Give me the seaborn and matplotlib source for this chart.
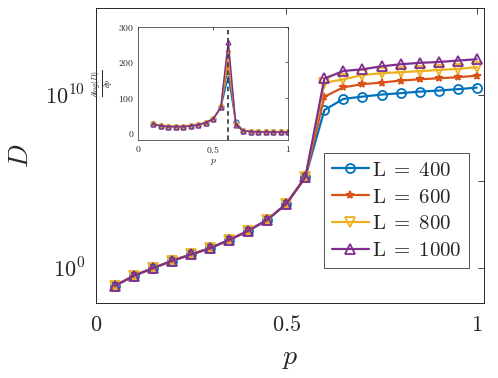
import numpy as np
import pandas as pd
import matplotlib
matplotlib.use("Agg")
import matplotlib.pyplot as plt
import seaborn as sns
from matplotlib.ticker import NullLocator

# main panel data: p and log10(D) for each L
p_main = [0.05, 0.10, 0.15, 0.20, 0.25, 0.30, 0.35, 0.40, 0.45, 0.50,
          0.55, 0.60, 0.65, 0.70, 0.75, 0.80, 0.85, 0.90, 0.95, 1.00]
common_low = [-1.02, -0.44, 0.0, 0.42, 0.79, 1.15, 1.63, 2.15, 2.79, 3.71, 5.25]
logD_400 = common_low + [9.13, 9.77, 9.90, 10.02, 10.10, 10.19, 10.25, 10.33, 10.42]
logD_600 = common_low + [9.90, 10.44, 10.62, 10.71, 10.83, 10.90, 10.96, 11.02, 11.11]
logD_800 = common_low + [10.70, 10.90, 11.15, 11.25, 11.31, 11.37, 11.44, 11.50, 11.60]
logD_1000 = common_low + [10.95, 11.38, 11.48, 11.65, 11.77, 11.85, 11.90, 11.98, 12.06]

# inset data: derivative of log(D)
p_inset = [0.10, 0.15, 0.20, 0.25, 0.30, 0.35, 0.40, 0.45, 0.50, 0.55,
           0.60, 0.65, 0.70, 0.75, 0.80, 0.85, 0.90, 0.95, 1.00]
d_low = [25, 20, 18, 18, 18, 20, 23, 29, 40, 72]
d_tail = [6, 4, 3, 3, 2.5, 2.5, 2.5]
dlog_400 = d_low + [160, 30] + d_tail
dlog_600 = d_low + [200, 25] + d_tail
dlog_800 = d_low + [225, 22] + d_tail
dlog_1000 = d_low + [258, 22] + d_tail

sizes = ["400", "600", "800", "1000"]
colors = ["#0072BD", "#D95319", "#EDB120", "#7E2F8E"]
markers = ["o", "*", "v", "^"]

sns.set_style("white")
plt.rcParams["mathtext.fontset"] = "cm"
plt.rcParams["font.family"] = ["DejaVu Serif"]
plt.rcParams["axes.edgecolor"] = "#262626"
plt.rcParams["xtick.color"] = "#262626"
plt.rcParams["ytick.color"] = "#262626"

fig = plt.figure(figsize=(4.98, 3.78), dpi=100)
ax = fig.add_axes([0.1928, 0.1992, 0.7797, 0.7788])

main_series = [logD_400, logD_600, logD_800, logD_1000]
for lab, col, mk, ys in zip(sizes, colors, markers, main_series):
    df = pd.DataFrame({"p": p_main, "D": 10.0 ** np.array(ys)})
    star = mk == "*"
    sns.lineplot(data=df, x="p", y="D", ax=ax, color=col, marker=mk,
                 markersize=5.5 if star else 6.5,
                 markerfacecolor=col if star else "none",
                 markeredgecolor=col, markeredgewidth=1.3, linewidth=1.6,
                 label=r"$\mathrm{L}\;=\;%s$" % lab)

ax.set_yscale("log")
ax.set_xlim(0, 1.02)
ax.set_ylim(1e-2, 1e15)
ax.set_yticks([1, 1e5, 1e10])
ax.set_yticklabels([r"$10^0$", "", r"$10^{10}$"])
ax.yaxis.set_minor_locator(NullLocator())
ax.set_xticks([0, 0.5, 1])
ax.set_xticklabels([r"$0$", r"$0.5$", r"$1$"])
ax.tick_params(direction="in", top=True, right=True, length=4, width=0.6,
               labelsize=16, pad=8)
ax.set_xlabel(r"$p$", fontsize=20, labelpad=6)
ax.set_ylabel(r"$D$", fontsize=20, labelpad=8)
for s in ax.spines.values():
    s.set_linewidth(0.7)

leg = ax.legend(loc="lower left", bbox_to_anchor=(0.588, 0.119), fontsize=15,
                frameon=True, fancybox=False, edgecolor="#262626",
                handlelength=1.8, handletextpad=0.15, labelspacing=0.38,
                borderpad=0.35, borderaxespad=0)
leg.get_frame().set_linewidth(0.7)

# inset
axi = fig.add_axes([0.2777, 0.6296, 0.3012, 0.2997])
inset_series = [dlog_400, dlog_600, dlog_800, dlog_1000]
for col, mk, ys in zip(colors, markers, inset_series):
    dfi = pd.DataFrame({"p": p_inset, "d": ys})
    star = mk == "*"
    sns.lineplot(data=dfi, x="p", y="d", ax=axi, color=col, marker=mk,
                 markersize=3.0 if star else 3.5,
                 markerfacecolor=col if star else "none",
                 markeredgecolor=col, markeredgewidth=0.9, linewidth=1.1,
                 legend=False)
axi.axvline(0.6, color="#404040", linestyle=(0, (2.5, 2)), linewidth=1.3, zorder=5)
axi.set_xlim(0, 1)
axi.set_ylim(-20, 300)
axi.set_xticks([0, 0.5, 1])
axi.set_xticklabels([r"$0$", r"$0.5$", r"$1$"])
axi.set_yticks([0, 100, 200, 300])
axi.set_yticklabels([r"$0$", r"$100$", r"$200$", r"$300$"])
axi.tick_params(direction="in", top=True, right=True, length=2.5, width=0.5,
                labelsize=7, pad=3)
axi.set_xlabel(r"$p$", fontsize=7, labelpad=1)
axi.set_ylabel(r"$\frac{\partial log(D)}{\partial p}$", fontsize=8, labelpad=1)
for s in axi.spines.values():
    s.set_linewidth(0.5)

fig.savefig("out.png", dpi=100)
